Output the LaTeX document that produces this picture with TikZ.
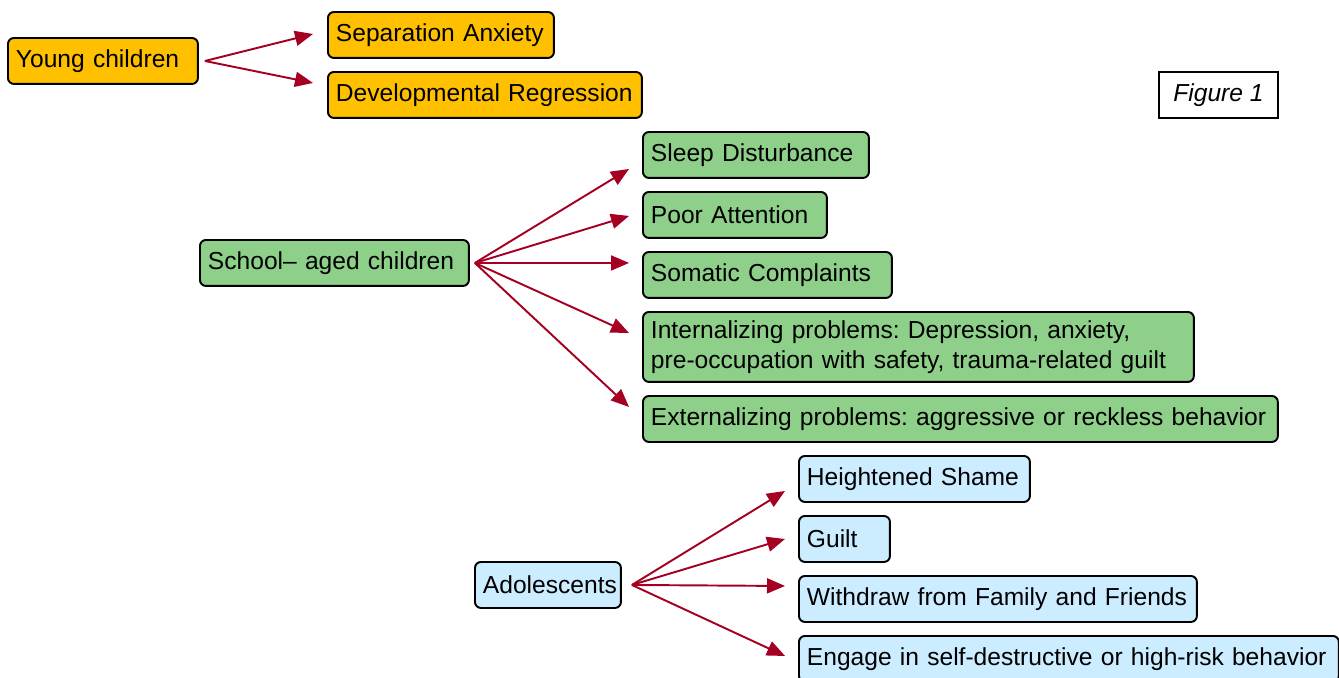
\documentclass[tikz,border=0pt]{standalone}
\usepackage{fontspec}
\setmainfont{Liberation Sans}
\usepackage{tikz}
\usetikzlibrary{arrows.meta,calc}
\frenchspacing

\definecolor{youngfill}{RGB}{255,192,0}
\definecolor{schoolfill}{RGB}{142,208,138}
\definecolor{teenfill}{RGB}{204,236,255}
\definecolor{arrowred}{RGB}{165,0,33}

\begin{document}
\begin{tikzpicture}[x=0.02cm, y=-0.02cm,
    box/.style={draw, line width=1.1pt, rounded corners=0.12cm, anchor=north west,
      minimum height=0.92cm, inner xsep=0.16cm, inner ysep=0pt, align=left,
      font=\fontsize{14}{17.2}\selectfont},
    young/.style={box, fill=youngfill},
    school/.style={box, fill=schoolfill},
    teen/.style={box, fill=teenfill},
    link/.style={draw=arrowred, line width=1.1pt, -{Triangle[length=0.36cm, width=0.3cm]}}]
      \useasboundingbox (0, 0) rectangle (1339, 677);

      \node[young, text width=3.48cm] (Young) at (7, 37) {Young children};
      \node[young, text width=4.2cm] (SepAnx) at (327, 11) {Separation Anxiety};
      \node[young, text width=5.96cm] (DevReg) at (327, 71) {Developmental Regression};

      \node[draw, line width=1.1pt, anchor=north west, minimum width=2.38cm, minimum height=0.92cm,
        font=\fontsize{14}{17.2}\selectfont\itshape] (Fig) at (1158, 71) {Figure 1};

      \node[school, text width=5.06cm] (School) at (199, 239) {School-- aged children};
      \node[school, text width=4.2cm] (Sleep) at (642, 131) {Sleep Disturbance};
      \node[school, text width=3.36cm] (Attn) at (642, 191) {Poor Attention};
      \node[school, text width=4.66cm] (Somatic) at (642, 251) {Somatic Complaints};
      \node[school, text width=10.7cm, minimum height=1.4cm] (Intern) at (642, 311)
        {Internalizing problems: Depression, anxiety,\\pre-occupation with safety, trauma-related guilt};
      \node[school, text width=12.38cm] (Extern) at (642, 395)
        {Externalizing problems: aggressive or reckless behavior};

      \node[teen, text width=2.6cm] (Teen) at (474, 561) {Adolescents};
      \node[teen, text width=4.3cm] (Shame) at (798, 455) {Heightened Shame};
      \node[teen, text width=1.5cm] (Guilt) at (798, 515) {Guilt};
      \node[teen, text width=7.64cm] (Withdraw) at (798, 575) {Withdraw from Family and Friends};
      \node[teen, text width=10.48cm] (Engage) at (798, 635) {Engage in self-destructive or high-risk behavior};

      \draw[link] ($(Young.east)+(6, 0)$) -- ($(SepAnx.west)+(-14, -1)$);
      \draw[link] ($(Young.east)+(6, 0)$) -- ($(DevReg.west)+(-14, -12)$);

      \draw[link] ($(School.east)+(5, 0)$) -- ($(Sleep.west)+(-13, 14)$);
      \draw[link] ($(School.east)+(5, 0)$) -- ($(Attn.west)+(-13, 1)$);
      \draw[link] ($(School.east)+(5, 0)$) -- ($(Somatic.west)+(-13, -12)$);
      \draw[link] ($(School.east)+(5, 0)$) -- ($(Intern.west)+(-13, -14)$);
      \draw[link] ($(School.east)+(5, 0)$) -- ($(Extern.west)+(-13, -12)$);

      \draw[link] ($(Teen.east)+(10, 0)$) -- ($(Shame.west)+(-13, 12)$);
      \draw[link] ($(Teen.east)+(10, 0)$) -- ($(Guilt.west)+(-13, 0)$);
      \draw[link] ($(Teen.east)+(10, 0)$) -- ($(Withdraw.west)+(-13, -13)$);
      \draw[link] ($(Teen.east)+(10, 0)$) -- ($(Engage.west)+(-13, -3)$);
    \end{tikzpicture}
\end{document}
